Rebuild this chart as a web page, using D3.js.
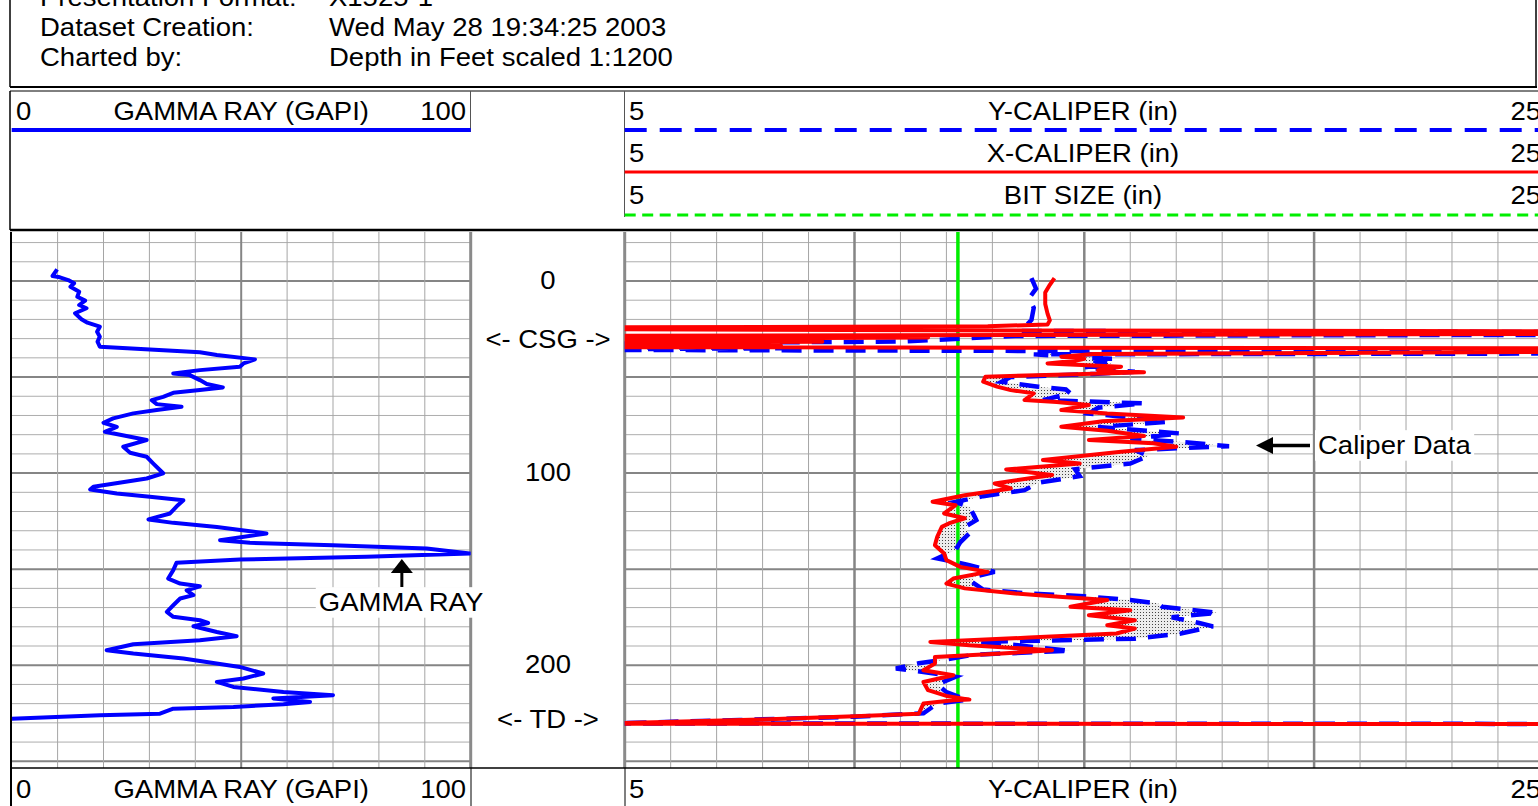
<!DOCTYPE html>
<html>
<head>
<meta charset="utf-8">
<title>Well log</title>
<script src="https://cdn.jsdelivr.net/npm/d3@7"></script>
<style>
html, body { margin: 0; padding: 0; background: #fff; overflow: hidden; }
svg { display: block; }
text { font-family: "Liberation Sans", Arial, sans-serif; font-size: 25px; fill: #000; }
</style>
</head>
<body>
<div id="chart"></div>
<script>
const headerRows = [
    ["Presentation Format:", "X1525-1"],
    ["Dataset Creation:", "Wed May 28 19:34:25 2003"],
    ["Charted by:", "Depth in Feet scaled 1:1200"],
];
const depthDomain = [-25.5, 253.5];
const depthLabels = [[0, "0"], [30.5, "<- CSG ->"], [100, "100"], [200, "200"], [228.5, "<- TD ->"]];
const gammaDomain = [0, 100];
const caliperDomain = [5, 25];
const bitSize = 12.25;

// [depth (ft), GAPI]
const gammaRay = [
    [-6.1, 9.9], [-2.6, 8.9], [-1.9, 10.5], [-0.5, 12.3], [1.2, 13.6], [3, 12.8], [5.6, 14.7], [8.2, 14.3],
    [10.2, 16], [12.5, 14.7], [14.2, 16.3], [16.8, 13.8], [19.9, 15.2], [21.7, 16.5], [23.8, 19.2], [26.4, 18.6],
    [29, 19.2], [31.6, 18.7], [34.2, 19.2], [35.6, 30.1], [37.1, 41], [38.5, 44.7], [40.8, 53], [42.9, 50.5],
    [44.6, 49.7], [46.4, 41], [48.1, 35.2], [49, 38.8], [51.6, 41], [53.6, 42.5], [55.4, 46], [56.8, 41],
    [58.2, 35.2], [60.3, 33], [62, 30.5], [64.1, 31.6], [65.5, 37], [67.2, 31.6], [68.9, 26.5], [71.5, 22.1],
    [73.8, 20], [75.9, 22.9], [78.5, 20.3], [80.7, 25], [82.8, 29.4], [86.3, 24.3], [89.4, 25.8], [91.5, 29.4],
    [94.9, 30.8], [100.1, 33], [102.8, 29.4], [107.1, 17.8], [108.5, 17.1], [110.6, 22.9], [112.3, 30.1],
    [114.1, 37.4], [116.7, 36.2], [121, 34.5], [124.1, 29.8], [125.9, 35.2], [128, 44.7], [131.4, 55.5],
    [134.9, 45.4], [136.3, 51.9], [137.5, 70], [139.2, 90.4], [141.8, 99.8], [143.6, 77.3], [145, 49.7],
    [146.7, 35.9], [150.5, 35.2], [154.9, 34.1], [157.5, 36.7], [158.9, 41], [161, 38.1], [163.5, 39.6],
    [165.3, 36.7], [168.8, 35.2], [172.2, 33.8], [174.8, 35.2], [176.6, 41], [178, 42.8], [179.7, 39.6],
    [182.7, 44.7], [184.9, 49], [187, 41], [189.1, 26.5], [192.2, 20.7], [193.9, 26.5], [196.5, 37.4],
    [200.9, 49.7], [204.3, 54.8], [206.9, 50.5], [208.7, 44.7], [211.3, 48.3], [213.9, 59.2], [215.6, 70],
    [217.3, 57], [219.1, 65], [220.3, 59.2], [221.7, 48.3], [222.6, 35.2], [225.2, 32.3], [226, 19.2], [227.8, 0],
];

// [depth (ft), inches] - X caliper (red)
const xCaliper = [
    [-1.5, 14.35], [2, 14.25], [6, 14.15], [12, 14.15], [17, 14.2], [20.5, 14.25], [22.6, 14.2], [23.6, 12.9],
    [24.2, 3], [25, 3], [25.8, 13.8], [26.3, 30], [27.4, 30], [28.6, 3], [29.4, 11.6], [30.3, 3], [31.6, 9.3],
    [32.6, 3], [33.6, 8.4], [34.4, 3], [35.2, 30], [36.4, 30], [38, 15.2], [39.4, 14.5], [40.5, 15],
    [41.5, 14.8], [42.9, 14.2], [44.6, 15.8], [46.4, 15.3], [47.5, 16.3], [48.5, 14.8], [49.8, 12.85],
    [52.4, 12.8], [55, 13.1], [56.8, 13.4], [58.5, 13.9], [62, 13.7], [63, 14.4], [64.6, 15.1], [67.2, 14.5],
    [69, 15.5], [71, 17.15], [73, 15.4], [75.9, 14.5], [78, 15.5], [80.7, 16.3], [82.8, 15.1], [84.5, 16.5],
    [86.3, 17], [88.9, 15.8], [93.2, 14.1], [95, 14.9], [98.1, 13.3], [101, 14.3], [105.4, 13.05], [108, 13.4],
    [111.5, 12.4], [114.9, 11.7], [116.7, 12.2], [121, 11.95], [123.5, 12.4], [126.2, 12.05], [128, 11.9],
    [133.2, 11.8], [137.5, 11.75], [141.8, 11.95], [145.3, 12], [148.8, 12.3], [151.4, 12.9], [154.9, 12.15],
    [157.5, 12], [160, 12.4], [162.7, 13.5], [164.4, 14.45], [166.1, 15.5], [169.6, 14.7], [171.4, 16],
    [174, 15.1], [176.6, 16.1], [179.2, 15.5], [180.9, 16.1], [183.5, 15.7], [185.6, 13.8], [187.9, 11.65],
    [189.6, 12.5], [192.2, 14.3], [193.9, 13.2], [195.7, 11.75], [199.1, 11.75], [202.6, 11.5], [205.2, 12.15],
    [208.7, 11.5], [213, 11.6], [216, 12], [217.9, 12.5], [218.2, 12.15], [219.9, 11.5], [225.2, 11.4],
    [226.6, 10], [228.3, 7.95], [230.1, 5], [230.4, 3], [230.7, 30], [231.5, 30],
];

// [depth (ft), inches] - Y caliper (blue dashed)
const yCaliper = [
    [-1.5, 13.85], [4, 13.95], [9, 13.8], [14, 13.9], [20.3, 13.85], [24, 13.7], [26, 13.6], [26.8, 30],
    [27.8, 30], [28.6, 13.5], [29.8, 12.5], [31.5, 11], [32.8, 3], [34.2, 3], [35, 8.5], [35.8, 3],
    [36.4, 13.7], [36.9, 30], [37.6, 30], [38.2, 13.9], [39, 14.5], [40.5, 15.6], [41.5, 15.2], [42.9, 15.6],
    [45, 15], [47.3, 16.1], [48.4, 15.2], [50, 13.4], [52.5, 13.2], [55, 14], [56.5, 14.6], [58.5, 14.7],
    [62, 14.1], [63.7, 16.3], [66, 15.3], [69, 15.1], [71, 16], [73.3, 16.8], [76, 15.3], [79.4, 17.1],
    [82, 16], [84, 17.2], [86, 18.15], [88, 16.1], [91, 16.4], [95, 16], [98, 14.8], [101.6, 14.9],
    [105, 14], [108.9, 13.7], [112, 12.8], [115, 12.2], [117.6, 12.5], [122, 12.6], [124.5, 12.65],
    [128, 12.4], [131.4, 12.5], [136, 12.3], [140, 12.2], [144.4, 11.8], [147.9, 12.5], [151.4, 13.05],
    [154, 12.6], [156.6, 12.55], [160.6, 12.8], [162.7, 13.8], [164.1, 15], [166.1, 16], [167.8, 16.6],
    [169.6, 16.7], [172.7, 17.9], [175, 16.9], [178, 17.5], [179.8, 17.8], [183.5, 17.1], [186.2, 16.1],
    [187.9, 12.7], [189.5, 13.5], [192.5, 14.7], [194.5, 12.6], [197, 12], [199, 11.4], [201.7, 10.9],
    [203.5, 11.5], [206, 12.2], [210, 11.8], [214, 12], [218, 12.45], [220, 11.8], [225, 11.5],
    [226.8, 10], [228.5, 7.5], [230.1, 5], [230.3, 3], [230.6, 30], [231.3, 30],
];

const W = 1538, H = 806;
const plotTop = 232, plotBottom = 768;
const gammaLeft = 11.7, gammaRight = 470.7;
const calLeft = 624.7, calRight = 1543.9;

const yDepth = d3.scaleLinear().domain(depthDomain).range([plotTop, plotBottom]);
const xGamma = d3.scaleLinear().domain(gammaDomain).range([gammaLeft, gammaRight]);
const xCal = d3.scaleLinear().domain(caliperDomain).range([calLeft, calRight]);

const svg = d3.select("#chart").append("svg").attr("width", W).attr("height", H);

const defs = svg.append("defs");
defs.append("clipPath").attr("id", "clipGamma").append("rect")
    .attr("x", gammaLeft).attr("y", plotTop).attr("width", gammaRight - gammaLeft).attr("height", plotBottom - plotTop);
defs.append("clipPath").attr("id", "clipCal").append("rect")
    .attr("x", calLeft).attr("y", plotTop).attr("width", W - calLeft).attr("height", plotBottom - plotTop);
const pat = defs.append("pattern").attr("id", "stipple").attr("width", 3).attr("height", 3).attr("patternUnits", "userSpaceOnUse");
pat.append("rect").attr("width", 3).attr("height", 3).attr("fill", "#ececec");
pat.append("rect").attr("width", 1).attr("height", 1).attr("fill", "#444");

function label(g, x, y, str, anchor) {
    return g.append("text")
        .attr("transform", `translate(${x},${y}) scale(1.1,1)`)
        .attr("text-anchor", anchor || "start")
        .text(str);
}

function hline(g, x1, x2, y, color, w, dash) {
    return g.append("line").attr("x1", x1).attr("x2", x2).attr("y1", y).attr("y2", y)
        .attr("stroke", color).attr("stroke-width", w).attr("stroke-dasharray", dash || null);
}

function vline(g, x, y1, y2, color, w) {
    return g.append("line").attr("x1", x).attr("x2", x).attr("y1", y1).attr("y2", y2)
        .attr("stroke", color).attr("stroke-width", w);
}

// ---- title block
const head = svg.append("g");
headerRows.forEach((r, i) => {
    label(head, 40, 6 + i * 30, r[0]);
    label(head, 329, 6 + i * 30, r[1]);
});
vline(head, 10, 0, 87, "#000", 1.5);
vline(head, 1536, 0, 87, "#000", 1.5);
hline(head, 10, 1537, 87, "#000", 2);

// ---- track headers
const th = svg.append("g");
hline(th, 10, W, 91, "#000", 1);
vline(th, 10, 91, 230, "#000", 1.5);
vline(th, 470.5, 91, 132, "#555", 1);
vline(th, 624.5, 91, 217, "#555", 1);
label(th, 16, 120, gammaDomain[0]);
label(th, (gammaLeft + gammaRight) / 2, 120, "GAMMA RAY (GAPI)", "middle");
label(th, 466, 120, gammaDomain[1], "end");
hline(th, gammaLeft, gammaRight, 130, "#0000ff", 4);

const calHeads = [
    ["Y-CALIPER (in)", 120, 130, "#0000ff", 4, "22,13"],
    ["X-CALIPER (in)", 162, 172, "#ff0000", 3, null],
    ["BIT SIZE (in)", 204, 215, "#00ee00", 3, "11,6.5"],
];
calHeads.forEach(c => {
    label(th, 629, c[1], caliperDomain[0]);
    label(th, 1083, c[1], c[0], "middle");
    label(th, 1541, c[1], caliperDomain[1], "end");
    hline(th, calLeft, W, c[2], c[3], c[4], c[5]);
});
hline(th, 10, W, 230, "#000", 2.5);

// ---- grids
const grid = svg.append("g");
const depthGrid = d3.range(-20, 251, 10);
const gammaGrid = d3.range(10, 100, 10);
const calGrid = d3.range(6, 25, 1);

grid.selectAll("line.gh").data(depthGrid).enter().append("line")
    .attr("x1", gammaLeft).attr("x2", gammaRight)
    .attr("y1", d => yDepth(d)).attr("y2", d => yDepth(d))
    .attr("stroke", d => d % 50 === 0 ? "#858585" : "#adadad")
    .attr("stroke-width", d => d % 50 === 0 ? 2 : 1);
grid.selectAll("line.gv").data(gammaGrid).enter().append("line")
    .attr("x1", d => xGamma(d)).attr("x2", d => xGamma(d))
    .attr("y1", plotTop).attr("y2", plotBottom)
    .attr("stroke", d => d === 50 ? "#858585" : "#a5a5a5")
    .attr("stroke-width", d => d === 50 ? 2 : 1);
grid.selectAll("line.ch").data(depthGrid).enter().append("line")
    .attr("x1", calLeft).attr("x2", W)
    .attr("y1", d => yDepth(d)).attr("y2", d => yDepth(d))
    .attr("stroke", d => d % 50 === 0 ? "#858585" : "#adadad")
    .attr("stroke-width", d => d % 50 === 0 ? 2 : 1);
grid.selectAll("line.cv").data(calGrid).enter().append("line")
    .attr("x1", d => xCal(d)).attr("x2", d => xCal(d))
    .attr("y1", plotTop).attr("y2", plotBottom)
    .attr("stroke", d => d % 5 === 0 ? "#858585" : "#a5a5a5")
    .attr("stroke-width", d => d % 5 === 0 ? 2.5 : 1);

vline(grid, gammaRight, plotTop, plotBottom, "#8a8a8a", 3);
vline(grid, calLeft, plotTop, plotBottom, "#8a8a8a", 3);

// ---- curves
const line = (xs) => d3.line().x(p => xs(p[1])).y(p => yDepth(p[0]));

svg.append("g").attr("clip-path", "url(#clipGamma)")
    .append("path").datum(gammaRay)
    .attr("d", line(xGamma))
    .attr("fill", "none").attr("stroke", "#0000ff").attr("stroke-width", 4)
    .attr("stroke-linejoin", "round");

const calG = svg.append("g").attr("clip-path", "url(#clipCal)");
const inHole = p => p[0] >= 38 && p[0] <= 226;
const shade = xCaliper.filter(inHole).concat(yCaliper.filter(inHole).reverse());
calG.append("path").datum(shade)
    .attr("d", d => line(xCal)(d) + "Z")
    .attr("fill", "url(#stipple)").attr("fill-rule", "evenodd").attr("stroke", "none");

calG.append("path").datum([[depthDomain[0], bitSize], [depthDomain[1], bitSize]])
    .attr("d", line(xCal))
    .attr("stroke", "#00ee00").attr("stroke-width", 3.5);

calG.append("path").datum(yCaliper)
    .attr("d", line(xCal))
    .attr("fill", "none").attr("stroke", "#0000ff").attr("stroke-width", 4.5)
    .attr("stroke-dasharray", "20,12");
calG.append("path").datum(xCaliper)
    .attr("d", line(xCal))
    .attr("fill", "none").attr("stroke", "#ff0000").attr("stroke-width", 4)
    .attr("stroke-linejoin", "round");

// ---- depth track
const depthG = svg.append("g");
depthLabels.forEach(d => label(depthG, 548, yDepth(d[0]) + 8, d[1], "middle"));

// ---- footer
const foot = svg.append("g");
hline(foot, 10, W, 768, "#000", 1.5);
vline(foot, 11, plotTop, H, "#000", 2);
vline(foot, 471, 768, H, "#000", 1);
vline(foot, 625, 768, H, "#000", 1);
label(foot, 16, 798, gammaDomain[0]);
label(foot, (gammaLeft + gammaRight) / 2, 798, "GAMMA RAY (GAPI)", "middle");
label(foot, 466, 798, gammaDomain[1], "end");
label(foot, 629, 798, caliperDomain[0]);
label(foot, 1083, 798, "Y-CALIPER (in)", "middle");
label(foot, 1541, 798, caliperDomain[1], "end");

// ---- annotations with white boxes and arrows
function note(x, y, str, anchor) {
    const g = svg.append("g");
    const t = label(g, x, y, str, anchor);
    const b = t.node().getBBox();
    const left = x + (anchor === "middle" ? -b.width * 1.1 / 2 : 0);
    g.insert("rect", "text")
        .attr("x", left - 3).attr("y", y + b.y - 1)
        .attr("width", b.width * 1.1 + 6).attr("height", b.height + 2)
        .attr("fill", "#fff");
    return g;
}
note(401, 611, "GAMMA RAY", "middle");
note(1318, 454, "Caliper Data", "start");

const arrows = svg.append("g").attr("fill", "#000").attr("stroke", "#000");
// up arrow under the gamma peak
vline(arrows, xGamma(85), 572, 587, "#000", 3);
arrows.append("path").attr("stroke", "none")
    .attr("d", `M${xGamma(85)},559 L${xGamma(85) - 11},573 L${xGamma(85) + 11},573 Z`);
// left arrow to the caliper washout
hline(arrows, 1272, 1310, 445.5, "#000", 3.5);
arrows.append("path").attr("stroke", "none")
    .attr("d", "M1256,445.5 L1273,437 L1273,454 Z");
</script>
</body>
</html>
